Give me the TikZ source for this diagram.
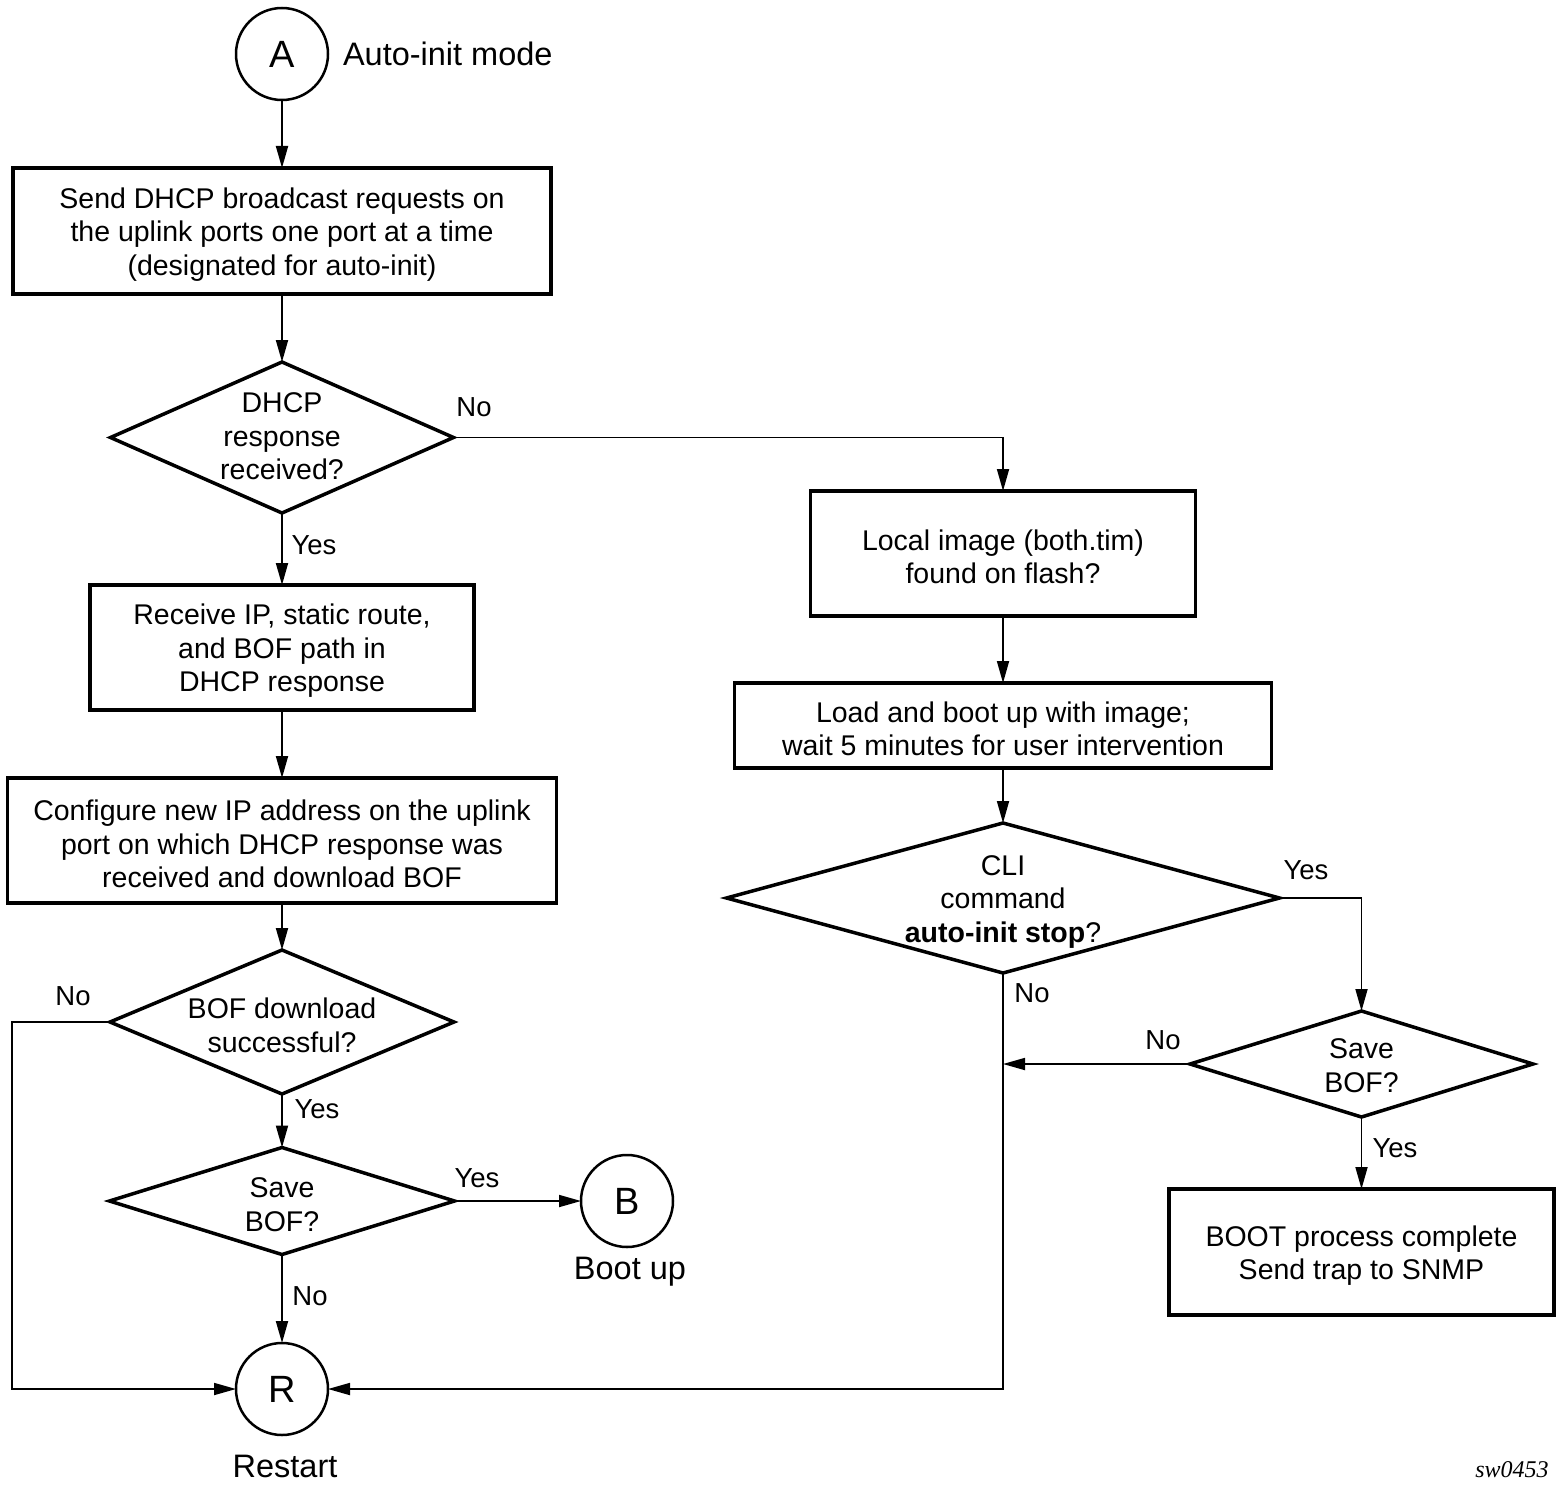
\documentclass[tikz,border=0pt]{standalone}
\usepackage{fontspec}
\setmainfont{Liberation Sans}
\newfontfamily\serifit{Liberation Serif}
\usetikzlibrary{shapes.geometric,arrows.meta}
\begin{document}
\begin{tikzpicture}[x=1pt,y=-1pt,
  every node/.style={inner sep=0pt,outer sep=0pt},
  txt/.style={font=\fontsize{28.5}{33.5}\selectfont,align=center,yshift=-3.5pt},
  box/.style={draw,line width=3.5pt},
  dia/.style={draw,diamond,line width=3.5pt},
  term/.style={draw,circle,line width=2.5pt,minimum size=92pt,font=\fontsize{38}{40}\selectfont},
  big/.style={font=\fontsize{32.5}{36}\selectfont},
  lbl/.style={font=\fontsize{27.5}{30}\selectfont},
  arr/.style={line width=1.8pt,-{Triangle[length=22pt,width=12pt]}},
  ln/.style={line width=1.8pt}]
\useasboundingbox (0,0) rectangle (1561,1493);

% terminals
\node[term] (A) at (282,54) {A};
\node[big,anchor=west] (lA) at (343,54) {Auto-init mode};
\node[term] (B) at (627,1201) {B};
\node[big] (lB) at (630,1272) {Boot up};
\node[term] (R) at (282,1389) {R};
\node[big] (lR) at (285,1466) {Restart};

% left column
\node[box,minimum width=538pt,minimum height=126pt,
  label={[txt]center:Send DHCP broadcast requests on\\the uplink ports one port at a time\\(designated for auto-init)}] (b1) at (282,231) {};
\node[dia,minimum width=343pt,minimum height=151pt,
  label={[txt,yshift=4.5pt]center:DHCP\\response\\received?}] (d1) at (282,437.5) {};
\node[box,minimum width=384pt,minimum height=125pt,
  label={[txt]center:Receive IP, static route,\\and BOF path in\\DHCP response}] (b3) at (282,647.5) {};
\node[box,minimum width=549pt,minimum height=125pt,
  label={[txt]center:Configure new IP address on the uplink\\port on which DHCP response was\\received and download BOF}] (b4) at (282,840.5) {};
\node[dia,minimum width=344pt,minimum height=144pt,
  label={[txt]center:BOF download\\successful?}] (d2) at (282,1022) {};
\node[dia,minimum width=345pt,minimum height=107pt,
  label={[txt]center:Save\\BOF?}] (d3) at (282,1201) {};

% right column
\node[box,minimum width=385pt,minimum height=125pt,
  label={[txt]center:Local image (both.tim)\\found on flash?}] (b2) at (1003,553.5) {};
\node[box,minimum width=537pt,minimum height=85pt,
  label={[txt]center:Load and boot up with image;\\wait 5 minutes for user intervention}] (b5) at (1003,725.5) {};
\node[dia,minimum width=553pt,minimum height=150pt,
  label={[txt]center:CLI\\command\\\textbf{auto-init stop}?}] (d4) at (1003,898) {};
\node[dia,minimum width=343pt,minimum height=106pt,
  label={[txt,yshift=2pt]center:Save\\BOF?}] (d5) at (1361.5,1064) {};
\node[box,minimum width=385pt,minimum height=126pt,
  label={[txt]center:BOOT process complete\\Send trap to SNMP}] (b6) at (1361.5,1252) {};

% connectors
\draw[arr] (A) -- (b1);
\draw[arr] (b1) -- (d1);
\draw[arr] (d1) -- (b3);
\draw[arr] (d1.east) -| (b2.north);
\draw[arr] (b3) -- (b4);
\draw[arr] (b4) -- (d2);
\draw[arr] (d2) -- (d3);
\draw[arr] (d3.east) -- (B.west);
\draw[arr] (d3) -- (R);
\coordinate (c1) at (12,1022);
\draw[arr] (d2.west) -- (c1) |- (R.west);
\draw[arr] (b2) -- (b5);
\draw[arr] (b5) -- (d4);
\draw[arr] (d4.east) -| (d5.north);
\draw[arr] (d4.south) |- (R.east);
\coordinate (j) at (d5.west -| d4.south);
\draw[arr] (d5.west) -- (j);
\draw[arr] (d5) -- (b6);

% labels
\node[lbl] (n1) at (474,407) {No};
\node[lbl] (y1) at (314,545) {Yes};
\node[lbl] (n2) at (73,996) {No};
\node[lbl] (y2) at (317,1109) {Yes};
\node[lbl] (y3) at (477,1178) {Yes};
\node[lbl] (n3) at (310,1296) {No};
\node[lbl] (y4) at (1306,870) {Yes};
\node[lbl] (n4) at (1032,993) {No};
\node[lbl] (n5) at (1163,1040) {No};
\node[lbl] (y5) at (1395,1148) {Yes};
\node[font=\serifit\itshape\fontsize{24}{26}\selectfont] (sw) at (1512,1470) {sw0453};
\end{tikzpicture}
\end{document}
